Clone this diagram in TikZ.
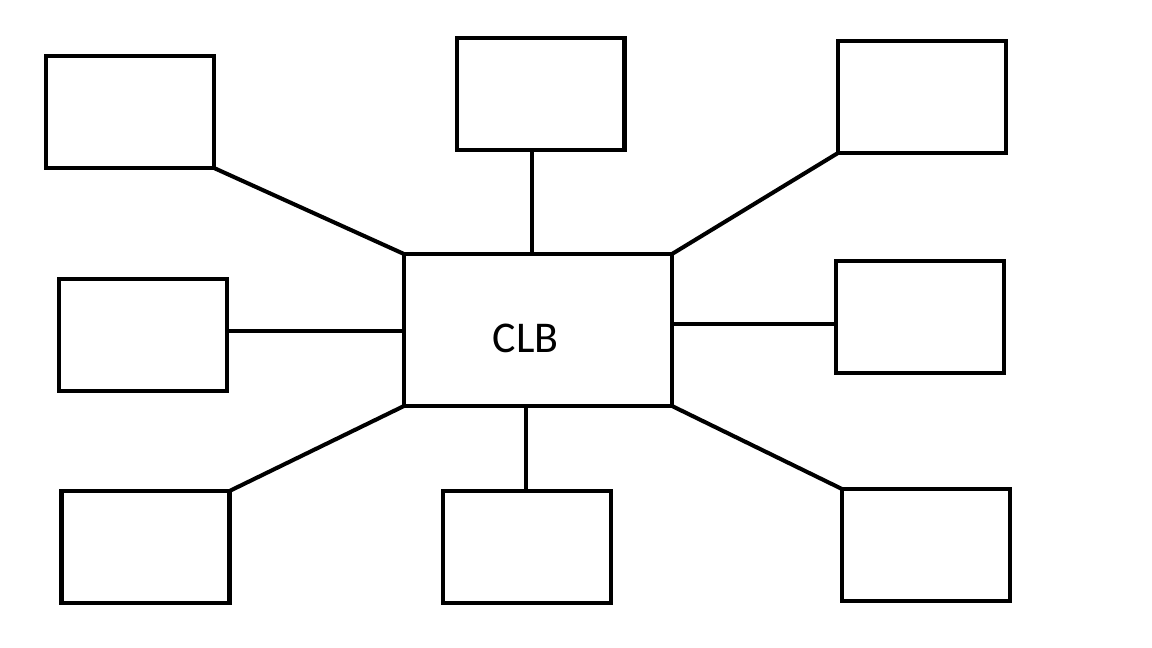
\documentclass[tikz,border=0pt]{standalone}
\usepackage{fontspec}
\setmainfont{Carlito}
\tikzstyle{every node}=[draw=black,line width=2.3pt,outer sep=0pt]
\tikzstyle{block}=[minimum width=3.36cm,minimum height=2.24cm]
\tikzstyle{clb}=[minimum width=5.36cm,minimum height=3.04cm,font=\fontsize{25}{30}\selectfont]
\tikzstyle{wire}=[line width=2.3pt]

\begin{document}
\begin{tikzpicture}[x=0.02cm,y=-0.02cm]
        \useasboundingbox (0,0) rectangle (1152,648);
        \node[clb] (clb) at (538,330) {\hspace*{-0.5cm}\raisebox{-0.46cm}[0pt][0pt]{CLB}};
        \node[block] (tl) at (130,112) {};
        \node[block] (tc) at (540.5,94) {};
        \node[block] (tr) at (922,97) {};
        \node[block] (ml) at (143,335) {};
        \node[block] (mr) at (920,317) {};
        \node[block] (bl) at (145.5,547) {};
        \node[block] (bc) at (527,547) {};
        \node[block] (br) at (926,545) {};
        \draw[wire] (tl.south east) -- (clb.north west);
        \draw[wire] (tc.south -| 532,0) -- (clb.north -| 532,0);
        \draw[wire] (tr.south west) -- (clb.north east);
        \draw[wire] (ml.east |- 0,331) -- (clb.west |- 0,331);
        \draw[wire] (mr.west |- 0,324) -- (clb.east |- 0,324);
        \draw[wire] (bl.north east) -- (clb.south west);
        \draw[wire] (bc.north -| 526,0) -- (clb.south -| 526,0);
        \draw[wire] (br.north west) -- (clb.south east);
\end{tikzpicture}
\end{document}
